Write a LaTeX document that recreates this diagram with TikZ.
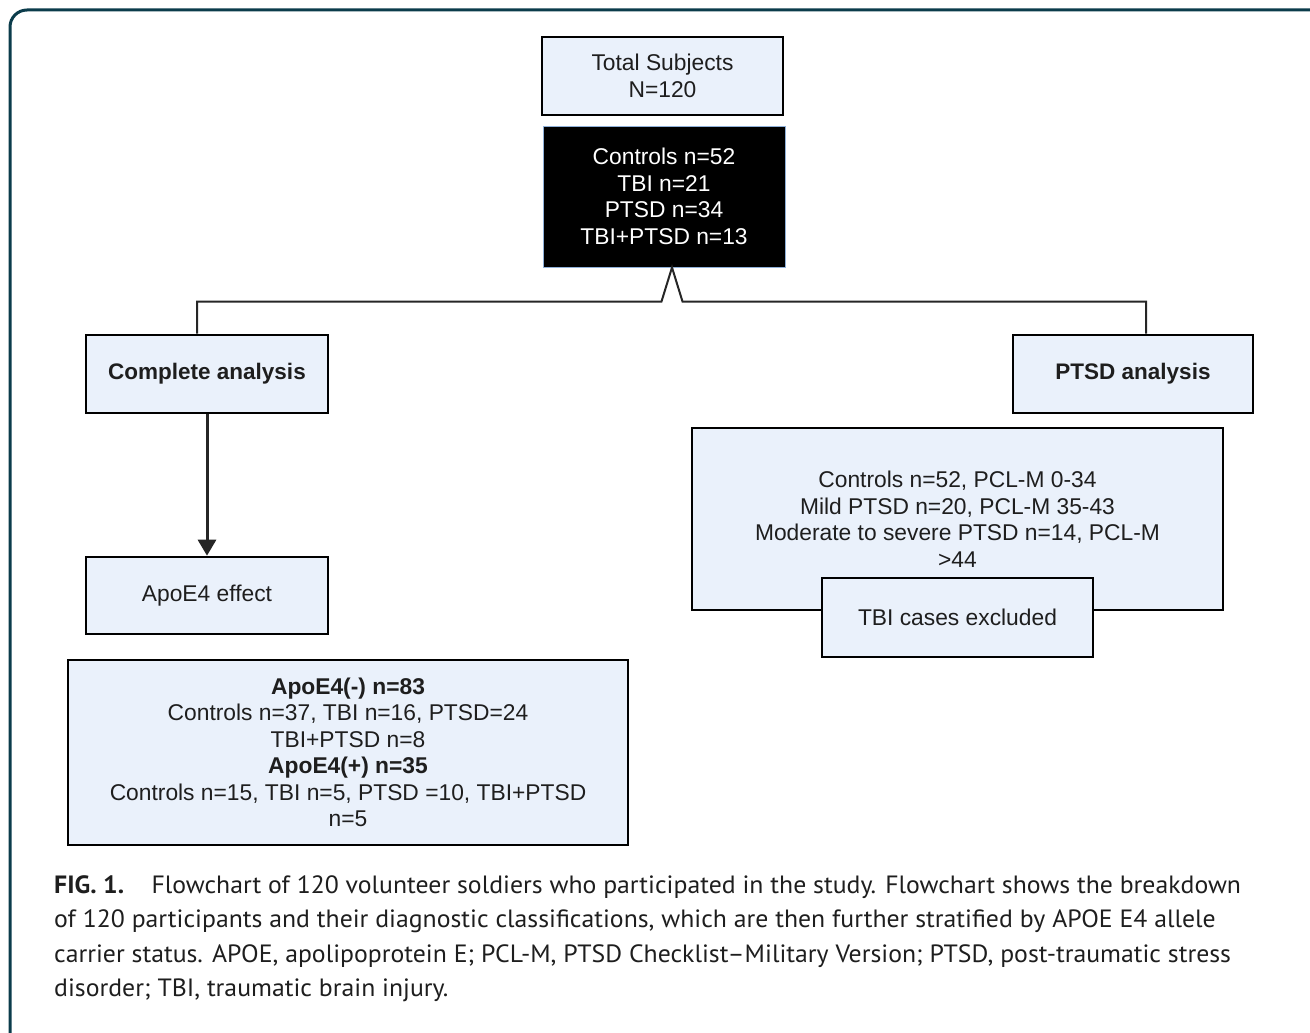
\documentclass[tikz,border=0pt]{standalone}
\usepackage{fontspec}
\setmainfont{Liberation Sans}
\newfontfamily\capfont[FakeStretch=1.03]{PT Sans}
\usetikzlibrary{arrows.meta,calc}
\definecolor{boxfill}{HTML}{EAF1FB}
\definecolor{frame}{HTML}{0B3C4B}
\definecolor{txt}{HTML}{1E1E1E}
\definecolor{blueedge}{HTML}{8FB0D8}
\tikzset{
  flowbox/.style={draw=black, line width=2.6pt, fill=boxfill, text=txt, align=center,
    inner sep=0pt, font=\fontsize{22.8}{26.5}\selectfont},
  darkbox/.style={draw=blueedge, line width=1pt, fill=black, text=white, align=center,
    inner sep=0pt, font=\fontsize{22.8}{26.5}\selectfont},
  thinline/.style={draw=black!85, line width=2pt},
  arrowline/.style={draw=black!85, line width=3pt, -{Triangle[width=18pt,length=16pt]}},
}
\begin{document}
\begin{tikzpicture}[x=1pt,y=-1pt]
\useasboundingbox (0,0) rectangle (1310,1033);
\begin{scope}
\clip (0,0) rectangle (1310,1033);
\draw[frame, line width=3pt, rounded corners=17pt] (10,10) rectangle (1340,1070);
\end{scope}

\node[flowbox, minimum width=241pt, minimum height=78pt] (total) at (662.5,76) {Total Subjects\\N=120};
\node[darkbox, minimum width=242pt, minimum height=141pt] (groups) at (664,196.5) {Controls n=52\\TBI n=21\\PTSD n=34\\TBI+PTSD n=13};

\node[flowbox, minimum width=242pt, minimum height=78pt, font=\fontsize{22.5}{26.5}\selectfont\bfseries] (complete) at (207,374) {Complete analysis};
\node[flowbox, minimum width=242pt, minimum height=77pt] (apoe) at (207,595.5) {ApoE4 effect};
\node[flowbox, minimum width=560pt, minimum height=185pt] (apobig) at (348,752.5) {\textbf{ApoE4(-) n=83}\\Controls n=37, TBI n=16, PTSD=24\\TBI+PTSD n=8\\\textbf{ApoE4(+) n=35}\\Controls n=15, TBI n=5, PTSD =10, TBI+PTSD\\n=5};

\node[flowbox, minimum width=240pt, minimum height=78pt, font=\fontsize{22.5}{26.5}\selectfont\bfseries] (ptsd) at (1133,374) {PTSD analysis};
\node[flowbox, minimum width=531pt, minimum height=182pt] (ptsdbig) at (957.5,519) {Controls n=52, PCL-M 0-34\\Mild PTSD n=20, PCL-M 35-43\\Moderate to severe PTSD n=14, PCL-M\\>44};
\node[flowbox, minimum width=271pt, minimum height=79pt] (tbiex) at (957.5,617.5) {TBI cases excluded};

\coordinate (peak) at ([xshift=8pt]groups.south);
\coordinate (lleg) at ($(peak)+(-10.5,34)$);
\coordinate (rleg) at ($(peak)+(10.5,34)$);
\coordinate (ltop) at ([xshift=-10pt]complete.north |- lleg);
\coordinate (rtop) at ([xshift=13pt]ptsd.north |- rleg);
\draw[thinline, line join=miter] ([xshift=-10pt]complete.north) -- (ltop) -- (lleg) -- (peak) -- (rleg) -- (rtop) -- ([xshift=13pt]ptsd.north);

\draw[arrowline] (complete.south) -- (apoe.north);

\node[anchor=north west, align=left, inner sep=0pt, text=txt,
  font=\capfont\fontsize{25}{34.5}\selectfont] (caption) at (54,875)
{\textbf{FIG. 1.}\hspace{1.1em}Flowchart of 120 volunteer soldiers who participated in the study. Flowchart shows the breakdown\\
of 120 participants and their diagnostic classifications, which are then further stratified by APOE E4 allele\\
carrier status. APOE, apolipoprotein E; PCL-M, PTSD Checklist–Military Version; PTSD, post-traumatic stress\\
disorder; TBI, traumatic brain injury.};
\end{tikzpicture}
\end{document}
